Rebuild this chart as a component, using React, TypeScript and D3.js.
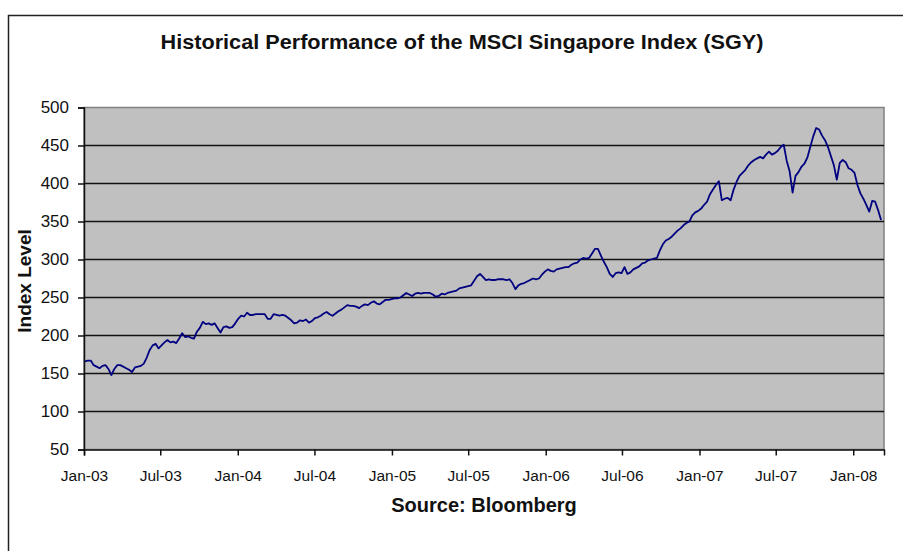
import React, { useEffect, useRef } from "react";
import * as d3 from "d3";

// weekly closes, first week ending 2003-01-03
const weekStart = "2003-01-03";

const values2003 = [
  166, 167, 167, 161, 159, 157, 160, 161, 156, 148, 156, 161, 161, 159, 157, 155, 152, 158, 159, 160,
  163, 171, 181, 187, 189, 183, 187, 191, 194, 191, 192, 190, 196, 203, 198, 199, 197, 196, 205, 210,
  218, 215, 216, 214, 216, 210, 204, 211, 212, 210, 211, 216,
];
const values2004 = [
  222, 226, 225, 230, 227, 227, 228, 228, 228, 228, 222, 222, 228, 227, 226, 227, 226, 223, 220, 216,
  217, 220, 219, 221, 217, 219, 223, 224, 226, 229, 231, 228, 226, 229, 232, 234, 237, 240, 239, 239,
  238, 236, 239, 241, 240, 243, 245, 242, 241, 244, 247, 247,
];
const values2005 = [
  248, 249, 249, 250, 253, 256, 254, 252, 255, 256, 255, 256, 256, 256, 254, 251, 252, 255, 254, 256,
  257, 258, 259, 262, 263, 264, 265, 266, 272, 278, 281, 277, 273, 274, 273, 273, 274, 274, 274, 273,
  274, 269, 261, 266, 268, 269, 271, 273, 275, 274, 275, 280,
];
const values2006 = [
  284, 287, 285, 284, 287, 288, 289, 290, 290, 293, 295, 296, 300, 302, 301, 302, 308, 314, 314, 305,
  297, 290, 281, 277, 282, 283, 282, 290, 281, 283, 287, 289, 291, 295, 296, 299, 300, 301, 302, 312,
  320, 325, 327, 330, 334, 338, 341, 345, 348, 350, 358, 362,
];
const values2007 = [
  364, 367, 372, 376, 386, 392, 398, 403, 378, 380, 381, 378, 392, 402, 410, 414, 418, 424, 428, 431,
  433, 435, 433, 438, 442, 438, 440, 443, 448, 451, 430, 416, 388, 410, 415, 422, 426, 434, 448, 462,
  473, 471, 463, 457, 448, 436, 424, 405, 427, 431, 428, 420,
];
const values2008 = [418, 414, 398, 387, 380, 372, 363, 377, 376, 365, 352];

const xTickLabels = [
  "Jan-03", "Jul-03", "Jan-04", "Jul-04", "Jan-05", "Jul-05",
  "Jan-06", "Jul-06", "Jan-07", "Jul-07", "Jan-08",
];
const yTicks = [50, 100, 150, 200, 250, 300, 350, 400, 450, 500];

const title = "Historical Performance of the MSCI Singapore Index (SGY)";
const yTitle = "Index Level";
const source = "Source: Bloomberg";

const App = () => {
  const ref = useRef<SVGSVGElement>(null);

  useEffect(() => {
    const width = 903;
    const height = 551;
    const m = { left: 84, right: 19, top: 107.5, bottom: 101.5 };
    const font = "Arial, 'Liberation Sans', sans-serif";

    const all = [...values2003, ...values2004, ...values2005, ...values2006, ...values2007, ...values2008];
    const start = d3.timeParse("%Y-%m-%d")(weekStart)!;
    const data = all.map((v, i) => ({ date: d3.timeWeek.offset(start, i), value: v }));

    const x = d3
      .scaleTime()
      .domain([new Date(2003, 0, 1), new Date(2008, 2, 14)])
      .range([m.left, width - m.right]);
    const y = d3.scaleLinear().domain([50, 500]).range([height - m.bottom, m.top]);

    const svg = d3.select(ref.current);
    svg.selectAll("*").remove();

    // outer frame
    svg
      .append("rect")
      .attr("x", 8.5)
      .attr("y", 15.5)
      .attr("width", 905)
      .attr("height", 545)
      .attr("fill", "white")
      .attr("stroke", "#222")
      .attr("stroke-width", 1.5);

    // plot background
    svg
      .append("rect")
      .attr("x", m.left)
      .attr("y", m.top)
      .attr("width", width - m.right - m.left)
      .attr("height", height - m.bottom - m.top)
      .attr("fill", "#c0c0c0")
      .attr("stroke", "#808080")
      .attr("stroke-width", 1.5);

    // gridlines
    svg
      .append("g")
      .selectAll("line")
      .data(yTicks.slice(1, -1))
      .enter()
      .append("line")
      .attr("x1", m.left)
      .attr("x2", width - m.right)
      .attr("y1", (d) => y(d))
      .attr("y2", (d) => y(d))
      .attr("stroke", "#111")
      .attr("stroke-width", 1.5);

    // y axis
    const yAxis = svg
      .append("g")
      .attr("transform", `translate(${m.left},0)`)
      .call(d3.axisLeft(y).tickValues(yTicks).tickSize(6).tickPadding(9));
    yAxis.select(".domain").attr("stroke", "#111").attr("stroke-width", 1.5);
    yAxis.selectAll(".tick line").attr("stroke", "#111").attr("stroke-width", 1.5);
    yAxis
      .selectAll("text")
      .attr("font-family", font)
      .attr("font-size", 17)
      .attr("fill", "#111");

    // x axis
    const xTicks = xTickLabels.map((_, i) => d3.timeMonth.offset(new Date(2003, 0, 1), i * 6));
    const xAxis = svg
      .append("g")
      .attr("transform", `translate(0,${height - m.bottom})`)
      .call(
        d3
          .axisBottom(x)
          .tickValues(xTicks)
          .tickSize(6)
          .tickPadding(14)
          .tickFormat((d, i) => xTickLabels[i])
      );
    xAxis.select(".domain").attr("stroke", "#111").attr("stroke-width", 1.5);
    xAxis.selectAll(".tick line").attr("stroke", "#111").attr("stroke-width", 1.5);
    xAxis
      .selectAll("text")
      .attr("font-family", font)
      .attr("font-size", 15.5)
      .attr("fill", "#111");

    // index line
    const line = d3
      .line<{ date: Date; value: number }>()
      .x((d) => x(d.date))
      .y((d) => y(d.value));
    svg
      .append("path")
      .datum(data)
      .attr("d", line)
      .attr("fill", "none")
      .attr("stroke", "#000080")
      .attr("stroke-width", 1.8)
      .attr("stroke-linejoin", "round");

    // titles
    svg
      .append("text")
      .attr("x", 462)
      .attr("y", 49)
      .attr("text-anchor", "middle")
      .attr("font-family", font)
      .attr("font-weight", "bold")
      .attr("font-size", 20)
      .attr("textLength", 603)
      .attr("lengthAdjust", "spacingAndGlyphs")
      .attr("fill", "#111")
      .text(title);

    svg
      .append("text")
      .attr("transform", `translate(31,281) rotate(-90)`)
      .attr("text-anchor", "middle")
      .attr("font-family", font)
      .attr("font-weight", "bold")
      .attr("font-size", 19)
      .attr("fill", "#111")
      .text(yTitle);

    svg
      .append("text")
      .attr("x", 484)
      .attr("y", 512)
      .attr("text-anchor", "middle")
      .attr("font-family", font)
      .attr("font-weight", "bold")
      .attr("font-size", 20)
      .attr("fill", "#111")
      .text(source);
  }, []);

  return (
    <div style={{ position: "absolute", left: 0, top: 0 }}>
      <svg ref={ref} width="903" height="551" style={{ display: "block" }}></svg>
    </div>
  );
};

export default App;
